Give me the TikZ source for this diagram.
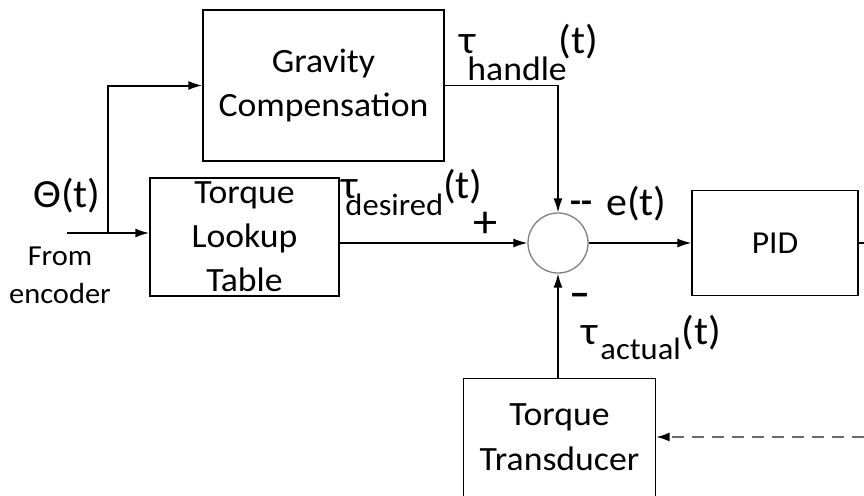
\documentclass[tikz,border=0pt]{standalone}
\usepackage{fontspec}
\setmainfont{Carlito}[FakeStretch=1.05]
\usetikzlibrary{arrows.meta}
% tau with subscript: lowering, size, text, kern before, kern after
\newcommand{\sigtau}[5]{τ\kern#4\raisebox{-#1}{\fontsize{#2}{#2}\selectfont #3}\kern#5(t)}

\begin{document}
\begin{tikzpicture}[x=1pt,y=-1pt,
        blk/.style={draw, line width=1.3pt, inner sep=0pt, align=center, font=\fontsize{34}{44}\selectfont},
        lbl/.style={inner sep=0pt, font=\fontsize{40}{40}\selectfont},
        sig/.style={line width=1.4pt},
        arr/.style={sig, -{Latex[length=14pt,width=9pt,color=black]}}]
        \useasboundingbox (0,0) rectangle (864,495);
        \clip (0,0) rectangle (864,495);

        % Blocks
        \node[blk, minimum width=241pt, minimum height=151pt] (grav) at (323.5,85.5) {Gravity\\Compensation};
        \node[blk, minimum width=189pt, minimum height=118pt] (look) at (244.5,237) {Torque\\Lookup\\Table};
        \node[blk, minimum width=166pt, minimum height=105pt, font=\fontsize{32}{32}\selectfont] (pid) at (775,243) {PID};
        \node[blk, draw=none, minimum width=191pt, minimum height=116pt, font=\fontsize{34}{45}\selectfont] (trans) at (559.5,437) {Torque\\Transducer};
        \draw[sig] (trans.south west) |- (trans.north east) -- (trans.south east);

        % Summing junction
        \node[circle, draw=gray, line width=1.3pt, minimum size=60pt, inner sep=0pt] (sum) at (558,243) {};

        % Input from encoder
        \coordinate (encin) at (67,233);
        \coordinate (split) at (108,233);
        \draw[arr, line width=2pt] (encin) -- (encin -| look.west);
        \draw[arr, line width=2pt] (split) |- (grav.west);

        % Torque paths
        \draw[arr] (grav.east) -| (sum.north);
        \draw[arr] (look.east |- sum) -- (sum.west);
        \draw[arr] (sum.east) -- (pid.west);
        \coordinate (pidout) at (864,243);
        \draw[sig] (pid.east) -- (pidout);
        \draw[arr] (sum |- trans.north) -- (sum.south);

        % Measured torque
        \coordinate (meas) at (864,437);
        \draw[arr, draw=gray!85!black, dash pattern=on 12pt off 8pt, line width=2.4pt] (meas) -- (trans.east);

        % Labels
        \node[lbl, anchor=base] (theta) at (67,207) {Θ(t)};
        \node[lbl, align=center, font=\fontsize{29}{38}\selectfont] (from) at (60,275) {From\\encoder};
        \node[lbl, anchor=base west] (thandle) at (459,53) {\sigtau{27pt}{34}{handle}{-8pt}{-8pt}};
        \node[lbl, anchor=base west] (tdesired) at (341,198) {\sigtau{17pt}{31}{desired}{-12pt}{0pt}};
        \node[lbl, anchor=base west] (tactual) at (581,344) {\sigtau{15pt}{31}{actual}{3pt}{1pt}};
        \node[lbl, anchor=base west] (err) at (606,215) {e(t)};
        \node[lbl, font=\fontsize{34}{34}\selectfont\bfseries] (mtop) at (581,207) {-{}-};
        \node[lbl, font=\fontsize{46}{46}\selectfont] (plus) at (486,225) {+};
        \node[lbl, font=\fontsize{40}{40}\selectfont\bfseries] (mbot) at (580,300) {–};
\end{tikzpicture}
\end{document}
